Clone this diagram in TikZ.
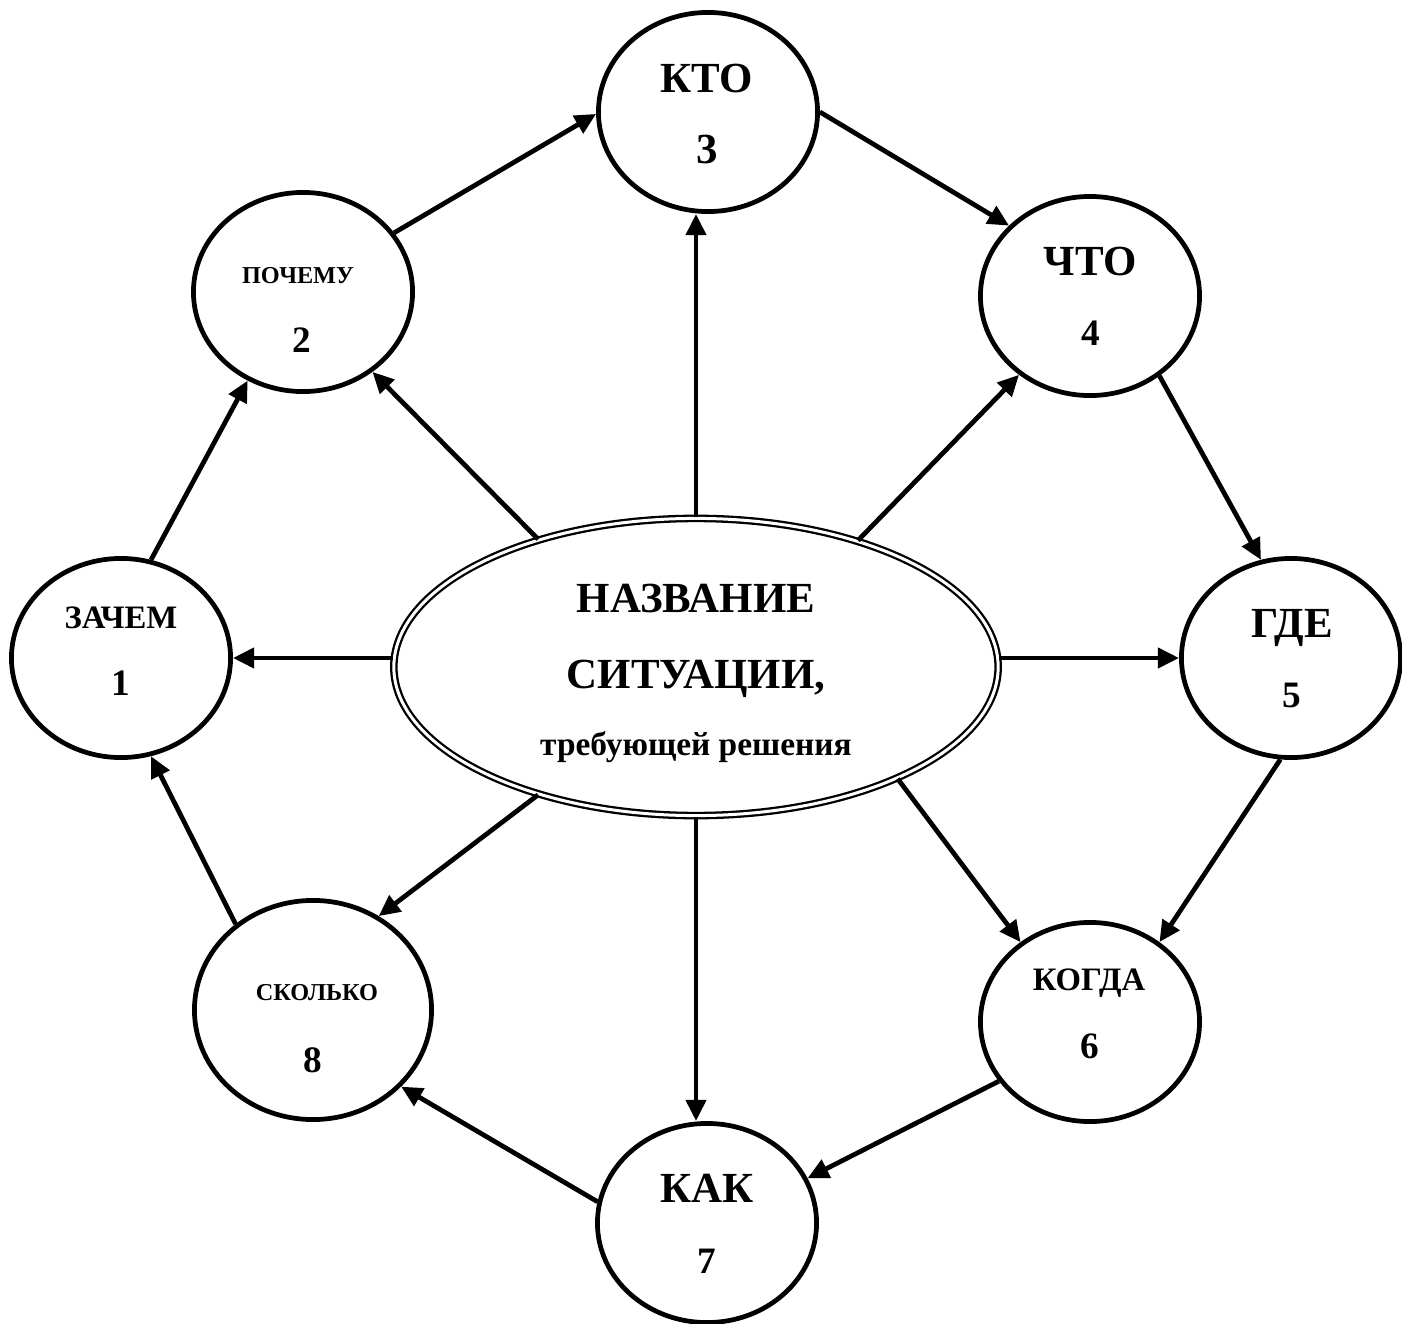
\documentclass[tikz,border=0pt]{standalone}
\usepackage{fontspec}
\setmainfont{Liberation Serif}
\usepackage{tikz}
\usetikzlibrary{shapes.geometric, arrows.meta}

\tikzset{
  qcirc/.style={ellipse, draw, line width=1.35pt, minimum width=2.19cm,
                minimum height=1.99cm, inner sep=0pt},
  qword/.style={anchor=base, inner sep=0pt, font=\bfseries\fontsize{12.2}{14}\selectfont},
  qmid/.style={anchor=base, inner sep=0pt, font=\bfseries\fontsize{9.3}{11}\selectfont},
  qsmall/.style={anchor=base, inner sep=0pt, font=\bfseries\fontsize{6.9}{8}\selectfont},
  qnum/.style={anchor=base, inner sep=0pt, font=\bfseries\fontsize{10.6}{12}\selectfont},
  qarrow/.style={line width=1.35pt, -{Triangle[length=6pt,width=5.6pt]}},
}

\begin{document}
\begin{tikzpicture}[x=0.01cm, y=-0.01cm]
  \useasboundingbox (0,0) rectangle (1402,1324);

  % situation in the middle
  \node[ellipse, draw, line width=0.65pt, double, double distance=0.85pt,
        minimum width=6.04cm, minimum height=2.97cm, inner sep=0pt] (sit) at (696,667) {};
  \node[qword] (sit-a) at (696,612) {НАЗВАНИЕ};
  \node[qword] (sit-b) at (696,688) {СИТУАЦИИ,};
  \node[anchor=base, inner sep=0pt, font=\bfseries\fontsize{9.5}{11}\selectfont]
        (sit-c) at (696,755) {требующей решения};

  % the eight questions
  \node[qcirc] (zachem) at (121,658) {};
  \node[qmid] (zachem-w) at (121,628) {ЗАЧЕМ};
  \node[qnum] (zachem-n) at (121,695) {1};

  \node[qcirc] (pochemu) at (303,292) {};
  \node[qsmall] (pochemu-w) at (298,283) {ПОЧЕМУ};
  \node[qnum] (pochemu-n) at (302,352) {2};

  \node[qcirc] (kto) at (708,112) {};
  \node[qword] (kto-w) at (707,92) {КТО};
  \node[qword] (kto-n) at (707,163) {3};

  \node[qcirc] (chto) at (1090,296) {};
  \node[qword] (chto-w) at (1090,275) {ЧТО};
  \node[qnum] (chto-n) at (1091,345) {4};

  \node[qcirc] (gde) at (1291,658) {};
  \node[qword] (gde-w) at (1292,637) {ГДЕ};
  \node[qnum] (gde-n) at (1292,707) {5};

  \node[qcirc] (kogda) at (1090,1022) {};
  \node[qmid] (kogda-w) at (1089,990) {КОГДА};
  \node[qnum] (kogda-n) at (1090,1058) {6};

  \node[qcirc] (kak) at (707,1223) {};
  \node[qword] (kak-w) at (707,1202) {КАК};
  \node[qnum] (kak-n) at (707,1273) {7};

  \node[qcirc, minimum width=2.37cm, minimum height=2.19cm] (skolko) at (313,1010) {};
  \node[qsmall] (skolko-w) at (317,1000) {СКОЛЬКО};
  \node[qnum] (skolko-n) at (313,1072) {8};

  % from the situation outwards
  \draw[qarrow] (sit.west |- zachem) -- (zachem.east);
  \draw[qarrow] (sit.141) -- (pochemu.311);
  \draw[qarrow] (sit.north) -- (sit.north |- kto.south);
  \draw[qarrow] (sit.38) -- (chto.228);
  \draw[qarrow] (sit.east |- gde) -- (gde.west);
  \draw[qarrow] (sit.331) -- (kogda.131);
  \draw[qarrow] (sit.south) -- (sit.south |- kak.north);
  \draw[qarrow] (sit.219) -- (skolko.55);

  % round the ring
  \draw[qarrow] (zachem.73) -- (pochemu.238);
  \draw[qarrow] (pochemu.33) -- (kto.181);
  \draw[qarrow] (kto.0) -- (chto.139);
  \draw[qarrow] (chto.311) -- (gde.107);
  \draw[qarrow] (gde.264) -- (kogda.49);
  \draw[qarrow] (kogda.213) -- (kak.24);
  \draw[qarrow] (kak.169) -- (skolko.319);
  \draw[qarrow] (skolko.132) -- (zachem.287);
\end{tikzpicture}
\end{document}
